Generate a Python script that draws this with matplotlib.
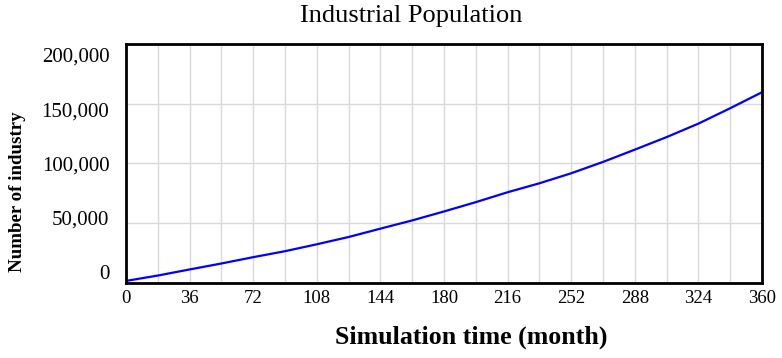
import matplotlib
matplotlib.use("Agg")
from matplotlib import pyplot as plt
from matplotlib.ticker import FuncFormatter, MultipleLocator
import matplotlib.transforms as mtransforms

# simulation months and industry count
months = [0, 18, 36, 54, 72, 90, 108, 126, 144, 162, 180, 198,
          216, 234, 252, 270, 288, 306, 324, 342, 360]
industry = [1500, 6000, 11100, 16100, 21400, 26400, 32200, 38300, 45300, 52200, 59700, 67500,
            75800, 83300, 91700, 101200, 111500, 122000, 133300, 146200, 159600]
x_ticks = [0, 36, 72, 108, 144, 180, 216, 252, 288, 324, 360]
y_ticks = [0, 50000, 100000, 150000, 200000]

plt.rcParams['font.family'] = ['Liberation Serif', 'DejaVu Serif']

fig = plt.figure(figsize=(7.82, 3.58), dpi=100)
ax = fig.add_axes([0.1611, 0.2103, 0.8133, 0.6667])

ax.plot(months, industry, color="#0000ff", linewidth=1.6)

ax.set_xlim(0, 360)
ax.set_ylim(0, 200000)
ax.set_xticks(x_ticks)
ax.set_yticks(y_ticks)
ax.xaxis.set_minor_locator(MultipleLocator(18))
ax.yaxis.set_major_formatter(FuncFormatter(lambda v, p: f"{int(v):,}"))

ax.grid(True, which="both", axis="x", color="#d9d9d9", linewidth=1)
ax.grid(True, which="major", axis="y", color="#d9d9d9", linewidth=1)
ax.set_axisbelow(True)

ax.tick_params(axis="both", which="both", length=0)
ax.tick_params(axis="x", labelsize=13.5, pad=5)
ax.tick_params(axis="y", labelsize=15, pad=12)

for s in ax.spines.values():
    s.set_linewidth(2)
    s.set_color("black")

# y labels in the original are squeezed inwards a bit (0 up, 200,000 down)
shifts = [11, 5.5, 0, -5.5, -11]
for lab, dy in zip(ax.get_yticklabels(), shifts):
    lab.set_transform(lab.get_transform() + mtransforms.ScaledTranslation(0, dy / 100, fig.dpi_scale_trans))

fig.text(411 / 782, 1 - 16 / 358, "Industrial Population", fontsize=19,
         ha="center", va="center")

ax.set_xlabel("Simulation time (month)", fontsize=18.6, fontweight="bold", va="center")
ax.xaxis.set_label_coords(0.5432, -0.2296)
ax.set_ylabel("Number of industry", fontsize=13.6, fontweight="bold", va="center", ha="center")
ax.yaxis.set_label_coords(-0.1706, 0.38)

fig.savefig("out.png", dpi=100)
